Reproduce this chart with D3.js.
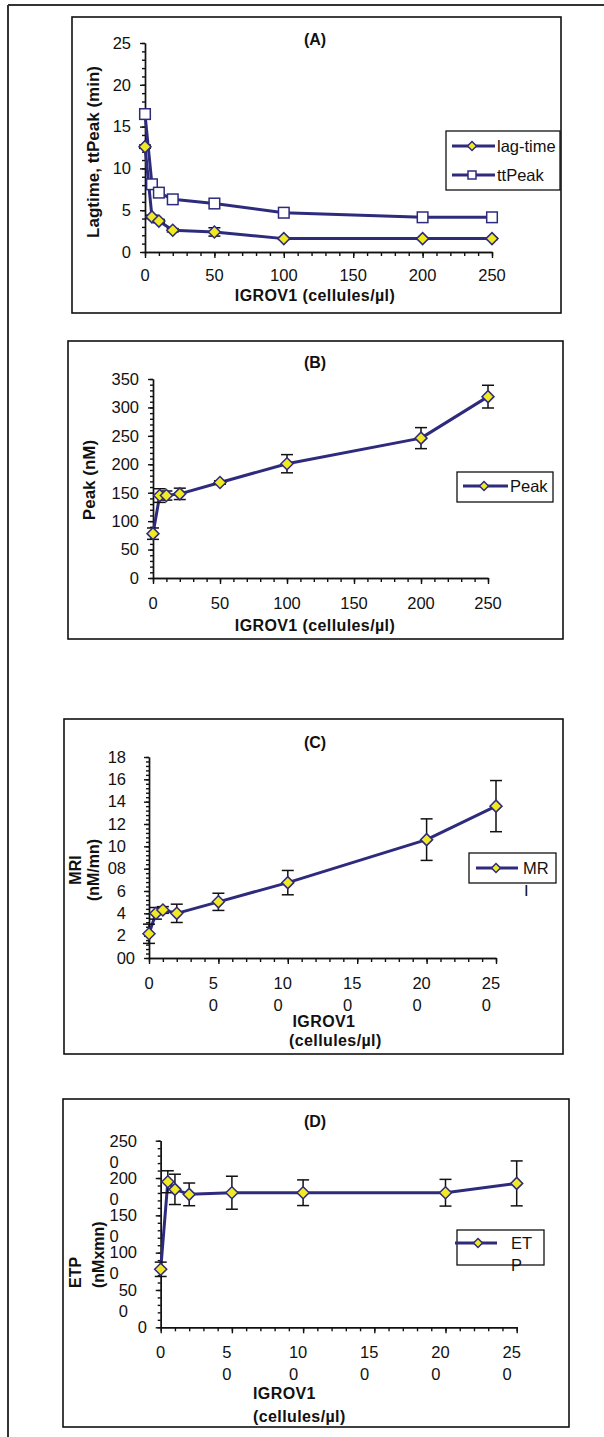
<!DOCTYPE html>
<html>
<head>
<meta charset="utf-8">
<script src="https://cdn.jsdelivr.net/npm/d3@7"></script>
<style>
body{margin:0;background:#fff;}
svg{display:block;font-family:"Liberation Sans",Arial,sans-serif;}
.axis .domain,.axis line{stroke:#111;stroke-width:1.4;}
</style>
</head>
<body>
<script>
'use strict';
// IGROV1 concentrations (cellules/µl)
const cells = [0, 5, 10, 20, 50, 100, 200, 250];

// (A) lag-time and time to peak (min)
const lagTime = [12.6, 4.2, 3.7, 2.6, 2.4, 1.6, 1.6, 1.6];
const lagTimeErr = [0.2, 0.2, 0.2, 0.2, 0.5, 0.1, 0.1, 0.1];
const ttPeak = [16.5, 8.1, 7.1, 6.3, 5.8, 4.7, 4.15, 4.15];

// (B) peak (nM)
const peak = [78, 145, 145, 148, 168, 201, 246, 319];
const peakErr = [10, 12, 8, 10, 3, 16, 18.5, 20];

// (C) MRI (nM/mn)
const mri = [2.17, 4.0, 4.3, 4.0, 5.03, 6.75, 10.6, 13.6];
const mriErr = [0.86, 0.52, 0.3, 0.82, 0.77, 1.09, 1.86, 2.29];

// (D) ETP (nM x mn)
const etp = [777, 1950, 1848, 1781, 1803, 1803, 1803, 1928];
const etpErr = [96, 147, 203, 152, 221, 172, 179, 301];

// tick labels
const xTicks = [0, 50, 100, 150, 200, 250];
const xTickLabels = ['0', '50', '100', '150', '200', '250'];
const xTickLabelsWrapped = ['0', '5\n0', '10\n0', '15\n0', '20\n0', '25\n0'];
const yTicksA = [0, 5, 10, 15, 20, 25];
const yTicksB = [0, 50, 100, 150, 200, 250, 300, 350];
const yTicksC = [0, 2, 4, 6, 8, 10, 12, 14, 16, 18];
const yTickLabelsC = ['00', '2', '4', '6', '08', '10', '12', '14', '16', '18'];
const yTicksD = [0, 500, 1000, 1500, 2000, 2500];
const yTickLabelsD = ['0', '50\n0', '100\n0', '150\n0', '200\n0', '250\n0'];

const navy = '#2e2b7d';
const yellow = '#f1ea22';
const ink = '#111';
const tickFont = 16.5;

let svg = d3.select('body').append('svg').attr('width', 604).attr('height', 1437);

// page frame
svg.append('line').attr('x1', 8).attr('x2', 604).attr('y1', 5).attr('y2', 5).attr('stroke', '#333').attr('stroke-width', 2);
svg.append('line').attr('x1', 8).attr('x2', 8).attr('y1', 5).attr('y2', 1437).attr('stroke', '#333').attr('stroke-width', 2);

function marker(sel, kind, r) {
	if (kind === 'square') {
		sel.append('rect').attr('x', -r).attr('y', -r).attr('width', 2 * r).attr('height', 2 * r)
			.attr('fill', '#fff').attr('stroke', navy).attr('stroke-width', 1.5);
	} else {
		sel.append('path').attr('d', 'M0,' + (-r) + 'L' + r + ',0L0,' + r + 'L' + (-r) + ',0Z')
			.attr('fill', yellow).attr('stroke', navy).attr('stroke-width', 1.5);
	}
}

function multiLine(g, str, xStart, yBase, lineGap, anchor) {
	let lines = str.split('\n');
	let t = g.append('text').attr('font-size', tickFont).attr('fill', ink).attr('text-anchor', anchor || 'start');
	lines.forEach(function(l, i) {
		t.append('tspan').attr('x', xStart).attr('y', yBase + i * lineGap).text(l);
	});
	return t;
}

function drawPanel(p) {
	let g = svg.append('g');
	g.append('rect').attr('x', p.box[0]).attr('y', p.box[1]).attr('width', p.box[2]).attr('height', p.box[3])
		.attr('fill', 'none').attr('stroke', ink).attr('stroke-width', 1.6);

	let x = d3.scaleLinear().domain([0, 250]).range([p.x0, p.x1]);
	let y = d3.scaleLinear().domain([0, p.yMax]).range([p.y0, p.y1]);

	// minor and major ticks
	g.append('g').attr('class', 'axis').attr('transform', 'translate(0,' + p.y0 + ')')
		.call(d3.axisBottom(x).tickValues(d3.range(0, 251, 10)).tickSize(4).tickSizeOuter(0).tickFormat(''));
	g.append('g').attr('class', 'axis').attr('transform', 'translate(0,' + p.y0 + ')')
		.call(d3.axisBottom(x).tickValues(xTicks).tickSize(6).tickSizeOuter(0).tickFormat(''));
	g.append('g').attr('class', 'axis').attr('transform', 'translate(' + p.x0 + ',0)')
		.call(d3.axisLeft(y).tickValues(d3.range(0, p.yMax + p.yMinor / 2, p.yMinor)).tickSize(3).tickSizeOuter(0).tickFormat(''));
	g.append('g').attr('class', 'axis').attr('transform', 'translate(' + p.x0 + ',0)')
		.call(d3.axisLeft(y).tickValues(p.yTicks).tickSize(5).tickSizeOuter(0).tickFormat(''));

	// x tick labels
	xTicks.forEach(function(v, i) {
		if (p.xWrap) {
			let lab = xTickLabelsWrapped[i];
			if (lab.indexOf('\n') < 0) {
				multiLine(g, lab, x(v), p.y0 + p.xLabDy, 22, 'middle');
			} else {
				let t = multiLine(g, lab, 0, p.y0 + p.xLabDy, 22, 'start');
				let w = t.select('tspan').node().getComputedTextLength();
				t.selectAll('tspan').attr('x', x(v) - 5 - w / 2);
			}
		} else {
			multiLine(g, xTickLabels[i], x(v), p.y0 + p.xLabDy, 22, 'middle');
		}
	});

	// y tick labels
	p.yTicks.forEach(function(v, i) {
		let lab = p.yLabels[i];
		let yy = y(v) + 5.8;
		if (lab.indexOf('\n') < 0) {
			let right = p.yLabRight + (v === 0 ? p.zeroShift : 0);
			multiLine(g, lab, right, yy, 21, 'end');
		} else {
			let t = multiLine(g, lab, 0, yy, 21, 'start');
			let w = t.select('tspan').node().getComputedTextLength();
			t.selectAll('tspan').attr('x', p.yLabRight - w);
		}
	});

	// title
	g.append('text').attr('x', 315).attr('y', p.titleY).attr('text-anchor', 'middle')
		.attr('font-size', 16).attr('font-weight', 'bold').attr('fill', ink).text(p.title);

	// axis titles
	p.xTitle.forEach(function(t) {
		g.append('text').attr('x', t.x).attr('y', t.y).attr('text-anchor', t.anchor)
			.attr('font-size', 16).attr('font-weight', 'bold').attr('letter-spacing', 0.4).attr('fill', ink).text(t.text);
	});
	p.yTitle.forEach(function(t) {
		g.append('text').attr('transform', 'translate(' + t.x + ',' + t.y + ') rotate(-90)')
			.attr('dy', '0.35em').attr('text-anchor', t.anchor)
			.attr('font-size', t.size || 16).attr('font-weight', 'bold').attr('fill', ink).text(t.text);
	});

	// series
	let line = d3.line().x(function(d) { return x(d[0]); }).y(function(d) { return y(d[1]); });
	p.series.forEach(function(s) {
		g.append('path').attr('d', line(d3.zip(cells, s.values)))
			.attr('fill', 'none').attr('stroke', navy).attr('stroke-width', 3).attr('stroke-linejoin', 'round');
	});
	p.series.forEach(function(s) {
		if (!s.err) return;
		cells.forEach(function(c, i) {
			let cx = x(c), top = y(s.values[i] + s.err[i]), bot = y(s.values[i] - s.err[i]);
			let eb = g.append('g').attr('stroke', ink).attr('stroke-width', 1.5);
			eb.append('line').attr('x1', cx).attr('x2', cx).attr('y1', top).attr('y2', bot);
			eb.append('line').attr('x1', cx - 6).attr('x2', cx + 6).attr('y1', top).attr('y2', top);
			eb.append('line').attr('x1', cx - 6).attr('x2', cx + 6).attr('y1', bot).attr('y2', bot);
		});
	});
	p.series.forEach(function(s) {
		cells.forEach(function(c, i) {
			let m = g.append('g').attr('transform', 'translate(' + x(c) + ',' + y(s.values[i]) + ')');
			marker(m, s.kind, s.kind === 'square' ? 5.3 : 6);
		});
	});

	// legend
	let L = p.legend;
	g.append('rect').attr('x', L.box[0]).attr('y', L.box[1]).attr('width', L.box[2]).attr('height', L.box[3])
		.attr('fill', '#fff').attr('stroke', ink).attr('stroke-width', 1.3);
	L.items.forEach(function(it) {
		g.append('line').attr('x1', it.x0).attr('x2', it.x1).attr('y1', it.y).attr('y2', it.y)
			.attr('stroke', navy).attr('stroke-width', 3);
		let m = g.append('g').attr('transform', 'translate(' + it.mx + ',' + it.y + ')');
		marker(m, it.kind, it.kind === 'square' ? 4 : 4.5);
		multiLine(g, it.text, it.tx, it.y + 5.8, 22, 'start');
	});
	if (L.extra) {
		g.append('text').attr('x', L.extra.x).attr('y', L.extra.y).attr('font-size', tickFont).attr('fill', ink)
			.attr('clip-path', 'url(#' + L.extra.clip + ')').text(L.extra.text);
	}
}

// clip for the wrapped "I" under the MR legend
svg.append('clipPath').attr('id', 'clipMR').append('rect').attr('x', 500).attr('y', 885).attr('width', 60).attr('height', 20);

drawPanel({
	box: [72, 17, 489, 296], x0: 145, x1: 492, y0: 252, y1: 43, yMax: 25, yMinor: 1,
	yTicks: yTicksA, yLabels: yTicksA.map(String), yLabRight: 131, zeroShift: 0,
	xWrap: false, xLabDy: 29, title: '(A)', titleY: 45,
	xTitle: [{text: 'IGROV1 (cellules/µl)', x: 315, y: 301, anchor: 'middle'}],
	yTitle: [{text: 'Lagtime, ttPeak (min)', x: 93, y: 152, anchor: 'middle', size: 17}],
	series: [
		{values: ttPeak, kind: 'square'},
		{values: lagTime, err: lagTimeErr, kind: 'diamond'}
	],
	legend: {box: [446, 131, 114, 59], items: [
		{text: 'lag-time', kind: 'diamond', y: 146, x0: 452, x1: 495, mx: 472, tx: 497},
		{text: 'ttPeak', kind: 'square', y: 175, x0: 452, x1: 495, mx: 472, tx: 497}
	]}
});

drawPanel({
	box: [68, 341, 495, 298], x0: 153, x1: 488, y0: 578, y1: 379, yMax: 350, yMinor: 10,
	yTicks: yTicksB, yLabels: yTicksB.map(String), yLabRight: 139, zeroShift: 0,
	xWrap: false, xLabDy: 31, title: '(B)', titleY: 368,
	xTitle: [{text: 'IGROV1 (cellules/µl)', x: 315, y: 631, anchor: 'middle'}],
	yTitle: [{text: 'Peak (nM)', x: 89, y: 480, anchor: 'middle', size: 17}],
	series: [{values: peak, err: peakErr, kind: 'diamond'}],
	legend: {box: [457, 472, 96, 30], items: [
		{text: 'Peak', kind: 'diamond', y: 486, x0: 463, x1: 508, mx: 484, tx: 510}
	]}
});

drawPanel({
	box: [64, 719, 499, 335], x0: 149, x1: 496, y0: 958, y1: 757, yMax: 18, yMinor: 0.4,
	yTicks: yTicksC, yLabels: yTickLabelsC, yLabRight: 126, zeroShift: 9,
	xWrap: true, xLabDy: 31, title: '(C)', titleY: 748,
	xTitle: [
		{text: 'IGROV1', x: 292.5, y: 1027, anchor: 'start'},
		{text: '(cellules/µl)', x: 289, y: 1046, anchor: 'start'}
	],
	yTitle: [
		{text: 'MRI', x: 75, y: 870, anchor: 'middle'},
		{text: '(nM/mn)', x: 93, y: 870, anchor: 'middle'}
	],
	series: [{values: mri, err: mriErr, kind: 'diamond'}],
	legend: {box: [469, 853, 87, 30], items: [
		{text: 'MR', kind: 'diamond', y: 868, x0: 476, x1: 518, mx: 496, tx: 523}
	], extra: {text: 'I', x: 524, y: 896, clip: 'clipMR'}}
});

drawPanel({
	box: [63, 1099, 506, 328], x0: 160.7, x1: 516.7, y0: 1327.3, y1: 1140.7, yMax: 2500, yMinor: 100,
	yTicks: yTicksD, yLabels: yTickLabelsD, yLabRight: 137, zeroShift: 10,
	xWrap: true, xLabDy: 30.5, title: '(D)', titleY: 1127,
	xTitle: [
		{text: 'IGROV1', x: 253, y: 1399, anchor: 'start'},
		{text: '(cellules/µl)', x: 253, y: 1422, anchor: 'start'}
	],
	yTitle: [
		{text: 'ETP', x: 75, y: 1288, anchor: 'start'},
		{text: '(nMxmn)', x: 98, y: 1288, anchor: 'start'}
	],
	series: [{values: etp, err: etpErr, kind: 'diamond'}],
	legend: {box: [457, 1230, 87, 35], items: [
		{text: 'ET\nP', kind: 'diamond', y: 1243, x0: 455, x1: 497, mx: 478, tx: 511}
	]}
});
</script>
</body>
</html>
